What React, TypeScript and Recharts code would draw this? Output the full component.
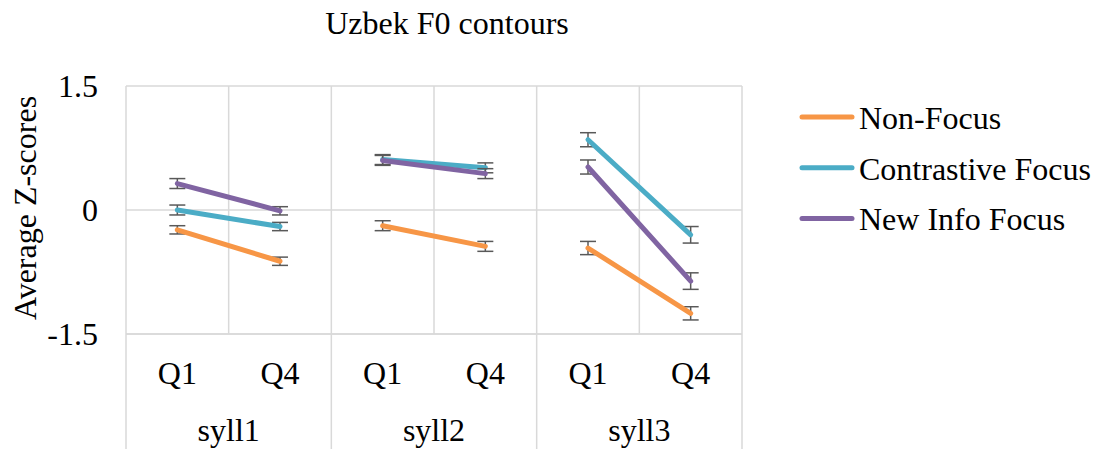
import React from 'react';
import { ComposedChart, Line, XAxis, YAxis, CartesianGrid, ErrorBar } from 'recharts';

// categories: two measurement points inside each syllable
const syllables = ['syll1', 'syll2', 'syll3'];
const quarters = ['Q1', 'Q4'];

// average z-scores, order: syll1 Q1, syll1 Q4, syll2 Q1, syll2 Q4, syll3 Q1, syll3 Q4
const nonFocus = [-0.24, -0.62, -0.19, -0.44, -0.46, -1.25];
const nonFocusErr = [0.05, 0.05, 0.06, 0.06, 0.08, 0.08];
const contrastive = [0.0, -0.2, 0.61, 0.51, 0.85, -0.3];
const contrastiveErr = [0.06, 0.05, 0.06, 0.06, 0.085, 0.1];
const newInfo = [0.32, -0.01, 0.6, 0.44, 0.52, -0.86];
const newInfoErr = [0.06, 0.05, 0.06, 0.06, 0.085, 0.1];

const yTicks = [-1.5, 0, 1.5];

const SERIES = [
  { id: 'nf', name: 'Non-Focus', color: '#F79646', values: nonFocus, errors: nonFocusErr },
  { id: 'cf', name: 'Contrastive Focus', color: '#4BACC6', values: contrastive, errors: contrastiveErr },
  { id: 'ni', name: 'New Info Focus', color: '#8064A2', values: newInfo, errors: newInfoErr },
];

const categories = syllables.flatMap((s) => quarters.map((q) => ({ syll: s, q })));

const data = categories.map((c, i) => {
  const row: Record<string, any> = { key: `${c.syll}-${c.q}`, q: c.q, syll: c.syll };
  const group = Math.floor(i / quarters.length);
  SERIES.forEach((s) => {
    syllables.forEach((_, gi) => {
      row[`${s.id}${gi}`] = gi === group ? s.values[i] : null;
      row[`${s.id}${gi}e`] = gi === group ? s.errors[i] : null;
    });
  });
  return row;
});

// layout
const W = 1095;
const H = 449;
const Y_AXIS_W = 126;
const X_AXIS_H = 115;
const MARGIN = { top: 86, right: 353, bottom: 0, left: 0 };
const PLOT_LEFT = MARGIN.left + Y_AXIS_W;
const PLOT_W = W - PLOT_LEFT - MARGIN.right;
const BAND = PLOT_W / categories.length;
const PLOT_BOTTOM = H - MARGIN.bottom - X_AXIS_H;

const FONT = "'Liberation Serif', Tinos, 'Times New Roman', Times, 'DejaVu Serif', serif";
const FS = 32;
const GRID = '#D9D9D9';
const textStyle = { fontFamily: FONT, fontSize: FS, fill: '#000' };

const XTick = (props: any) => {
  const { x, index, payload } = props;
  const cat = categories[index] ?? { q: payload.value, syll: '' };
  const first = index % quarters.length === 0;
  const last = index === categories.length - 1;
  return (
    <g>
      <text x={x} y={PLOT_BOTTOM + 50} textAnchor="middle" style={textStyle}>
        {cat.q}
      </text>
      {first && (
        <>
          <line x1={x - BAND / 2} x2={x - BAND / 2} y1={PLOT_BOTTOM} y2={H} stroke={GRID} strokeWidth={1.5} />
          <text x={x + BAND / 2} y={PLOT_BOTTOM + 107} textAnchor="middle" style={textStyle}>
            {cat.syll}
          </text>
        </>
      )}
      {last && <line x1={x + BAND / 2} x2={x + BAND / 2} y1={PLOT_BOTTOM} y2={H} stroke={GRID} strokeWidth={1.5} />}
    </g>
  );
};

const YTick = (props: any) => {
  const { x, y, payload } = props;
  return (
    <text x={x} y={y} dy="0.355em" textAnchor="end" style={textStyle}>
      {payload.value}
    </text>
  );
};

const App: React.FC = () => {
  const verticalPoints = Array.from({ length: categories.length + 1 }, (_, i) => PLOT_LEFT + i * BAND);
  return (
    <div style={{ position: 'absolute', left: 0, top: 0, width: W, height: H, background: '#fff' }}>
      <ComposedChart width={W} height={H} data={data} margin={MARGIN}>
        <CartesianGrid stroke={GRID} strokeWidth={1.5} verticalPoints={verticalPoints} />
        <XAxis
          dataKey="key"
          scale="point"
          padding={{ left: BAND / 2, right: BAND / 2 }}
          height={X_AXIS_H}
          axisLine={{ stroke: GRID, strokeWidth: 1.5 }}
          tickLine={false}
          interval={0}
          tick={<XTick />}
        />
        <YAxis
          width={Y_AXIS_W}
          domain={[-1.5, 1.5]}
          ticks={yTicks}
          axisLine={false}
          tickLine={false}
          tickSize={0}
          tickMargin={28}
          tick={<YTick />}
        />
        {SERIES.flatMap((s) =>
          syllables.map((_, gi) => (
            <Line
              key={`${s.id}${gi}`}
              dataKey={`${s.id}${gi}`}
              name={s.name}
              stroke={s.color}
              strokeWidth={5}
              strokeLinecap="round"
              dot={false}
              activeDot={false}
              connectNulls={false}
              isAnimationActive={false}
            >
              <ErrorBar dataKey={`${s.id}${gi}e`} width={8} stroke="#595959" strokeWidth={1.5} />
            </Line>
          ))
        )}
      </ComposedChart>
      <svg width={W} height={H} style={{ position: 'absolute', left: 0, top: 0, pointerEvents: 'none' }}>
        <text x={447} y={34} textAnchor="middle" style={textStyle}>
          Uzbek F0 contours
        </text>
        <text transform="translate(36, 208) rotate(-90)" textAnchor="middle" style={textStyle}>
          Average Z-scores
        </text>
        {SERIES.map((s, i) => (
          <g key={s.id}>
            <line x1={802} x2={852} y1={117 + i * 50.7} y2={117 + i * 50.7} stroke={s.color} strokeWidth={5} strokeLinecap="round" />
            <text x={859} y={129 + i * 50.7} style={textStyle}>
              {s.name}
            </text>
          </g>
        ))}
      </svg>
    </div>
  );
};

export default App;
